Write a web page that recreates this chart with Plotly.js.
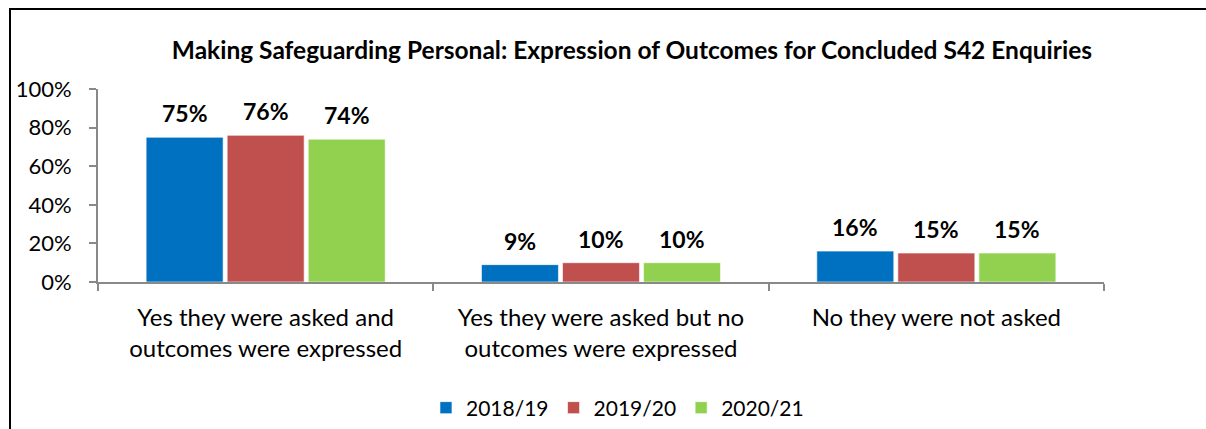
<!DOCTYPE html>
<html><head><meta charset="utf-8">
<script src="https://cdn.plot.ly/plotly-3.0.1.min.js"></script>
<style>
body{margin:0;padding:0;background:#fff;}
#frame{position:absolute;left:9px;top:8px;width:1400px;height:600px;border:2px solid #000;pointer-events:none;z-index:10;}
#chart{position:absolute;left:0;top:0;width:1206px;height:429px;}
</style></head>
<body>
<div id="chart"></div>
<div id="frame"></div>
<script>
const categories = ["Yes they were asked and<br>outcomes were expressed", "Yes they were asked but no<br>outcomes were expressed", "No they were not asked"];
const seriesNames = ["2018/19", "2019/20", "2020/21"];
const values2018 = [0.75, 0.09, 0.16];
const values2019 = [0.76, 0.10, 0.15];
const values2020 = [0.74, 0.10, 0.15];
const colors = ["#0070C0", "#C0504D", "#92D050"];
const yTickVals = [0, 0.2, 0.4, 0.6, 0.8, 1.0];
const yTickText = ["0%", "20%", "40%", "60%", "80%", "100%"];

const FONT = "Lato, 'Open Sans', sans-serif";
const allVals = [values2018, values2019, values2020];
const W = 1206, ML = 98, MR = 102;
const BARGAP = 0.275;
const slotPx = (W - ML - MR) / categories.length * (1 - BARGAP) / allVals.length;

const traces = allVals.map((v, i) => ({
  type: "bar",
  name: seriesNames[i],
  x: categories,
  y: v,
  marker: {color: colors[i], line: {color: "rgba(255,255,255,0.6)", width: 1}},
  hoverinfo: "none"
}));

const annotations = [];
allVals.forEach((v, i) => {
  v.forEach((d, j) => {
    annotations.push({
      x: categories[j], y: d, xref: "x", yref: "y",
      text: "<b>" + Math.round(d * 100) + "%</b>",
      showarrow: false, xanchor: "center", yanchor: "middle",
      xshift: (i - 1) * slotPx, yshift: 24,
      font: {family: FONT, size: 23, color: "#000"}
    });
  });
});

const layout = {
  width: W, height: 429,
  margin: {l: ML, r: MR, t: 89, b: 147, autoexpand: false},
  paper_bgcolor: "#fff", plot_bgcolor: "#fff",
  font: {family: FONT, color: "#000", size: 20},
  title: {text: "<b>Making Safeguarding Personal: Expression of Outcomes for Concluded S42 Enquiries</b>",
          x: 0.524, xref: "container", xanchor: "center", y: 0.883, yref: "container", yanchor: "middle",
          font: {family: FONT, size: 24.5, color: "#000"}},
  barmode: "group",
  bargap: BARGAP,
  bargroupgap: 0.05,
  showlegend: true,
  annotations: annotations,
  legend: {orientation: "h", x: 0.512, xref: "container", xanchor: "center", y: 0.049, yref: "container", yanchor: "middle",
           font: {family: FONT, size: 21}, itemwidth: 30, tracegroupgap: 0},
  xaxis: {
    type: "category", automargin: false,
    showline: true, linecolor: "#898989", linewidth: 2,
    ticks: "outside", tickson: "boundaries", ticklen: 7, tickcolor: "#898989", tickwidth: 2,
    tickfont: {family: FONT, size: 24, color: "#000"},
    showgrid: false, zeroline: false, fixedrange: true,
    ticklabelstandoff: 13
  },
  yaxis: {
    range: [0, 1], automargin: false,
    tickvals: yTickVals, ticktext: yTickText,
    showline: true, linecolor: "#898989", linewidth: 2,
    ticks: "outside", ticklen: 7, tickcolor: "#898989", tickwidth: 2,
    tickfont: {family: FONT, size: 22, color: "#000"},
    showgrid: false, zeroline: false, fixedrange: true,
    ticklabelstandoff: 13
  }
};

Plotly.newPlot("chart", traces, layout, {displayModeBar: false, staticPlot: true});
</script>
</body></html>
